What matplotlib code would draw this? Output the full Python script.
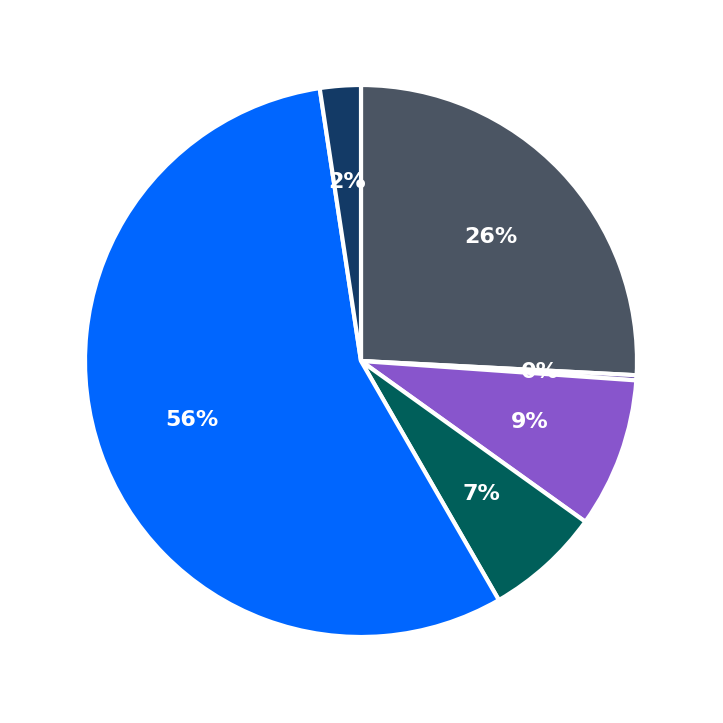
import matplotlib
matplotlib.use("Agg")
import matplotlib.pyplot as plt

labels = ["A", "B", "C", "D", "E", "F"]
values = [25.9, 0.3, 8.8, 6.8, 56.1, 2.4]
colors = ["#4b5563", "#6b4fb0", "#8855cc", "#005f5a", "#0066ff", "#133a66"]

fig = plt.figure(figsize=(7.23, 7.23), dpi=100)
s = 552 / 723
ax = fig.add_axes([(361 - 276) / 723, 1 - (361 + 276) / 723, s, s])
wedges, texts, autotexts = ax.pie(
    values, colors=colors, startangle=90, counterclock=False,
    autopct=lambda p: f"{p:.0f}%", pctdistance=0.65,
    wedgeprops=dict(edgecolor="white", linewidth=3),
    textprops=dict(color="white", fontsize=16, fontweight="bold"))
ax.set_xlim(-1, 1)
ax.set_ylim(-1, 1)
ax.set_aspect("equal")
fig.savefig("out.png", dpi=100)
